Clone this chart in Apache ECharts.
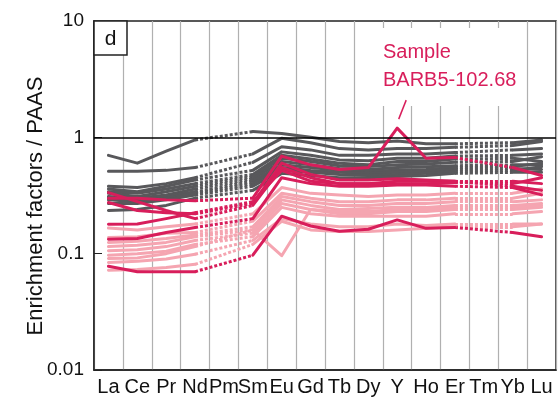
<!DOCTYPE html>
<html><head><meta charset="utf-8">
<script src="https://cdn.jsdelivr.net/npm/echarts@6/dist/echarts.min.js"></script>
<style>html,body{margin:0;padding:0;background:#fff}#c{width:559px;height:406px}</style>
</head><body><div id="c"></div>
<script>
var elements = ['La','Ce','Pr','Nd','Pm','Sm','Eu','Gd','Tb','Dy','Y','Ho','Er','Tm','Yb','Lu'];
var yTicks = [0.01, 0.1, 1, 10];
// values per element; Pm and Tm not measured (null)
var grayLines = [
 [0.70,0.60,0.76,0.95,null,1.12,1.08,1.00,0.92,0.90,0.93,0.88,0.88,null,0.90,0.95],
 [0.51,0.51,0.52,0.55,null,0.72,0.98,0.90,0.80,0.78,0.80,0.80,0.82,null,0.85,0.92],
 [0.38,0.37,0.40,0.45,null,0.61,0.83,0.78,0.70,0.70,0.72,0.72,0.74,null,0.78,0.80],
 [0.36,0.34,0.38,0.43,null,0.52,0.75,0.70,0.64,0.63,0.66,0.66,0.69,null,0.70,0.72],
 [0.34,0.33,0.36,0.40,null,0.48,0.70,0.65,0.60,0.58,0.62,0.62,0.65,null,0.66,0.62],
 [0.33,0.31,0.34,0.38,null,0.46,0.66,0.62,0.57,0.56,0.58,0.59,0.61,null,0.62,0.68],
 [0.31,0.30,0.32,0.36,null,0.44,0.62,0.58,0.54,0.53,0.55,0.56,0.57,null,0.58,0.58],
 [0.30,0.29,0.31,0.34,null,0.42,0.58,0.55,0.52,0.51,0.52,0.53,0.55,null,0.56,0.60],
 [0.29,0.28,0.30,0.33,null,0.40,0.55,0.52,0.50,0.49,0.50,0.51,0.53,null,0.54,0.53],
 [0.27,0.27,0.29,0.32,null,0.38,0.52,0.50,0.48,0.47,0.48,0.49,0.51,null,0.52,0.56],
 [0.235,0.24,0.26,0.30,null,0.35,0.49,0.47,0.45,0.45,0.46,0.47,0.49,null,0.50,0.50]
];
var pinkLines = [
 [0.166,0.16,0.17,0.18,null,0.22,0.37,0.33,0.32,0.31,0.32,0.32,0.33,null,0.33,0.36],
 [0.138,0.14,0.15,0.152,null,0.19,0.33,0.30,0.28,0.28,0.29,0.29,0.30,null,0.30,0.33],
 [0.125,0.128,0.135,0.145,null,0.17,0.31,0.28,0.26,0.26,0.27,0.27,0.28,null,0.28,0.29],
 [0.115,0.118,0.125,0.14,null,0.16,0.29,0.26,0.24,0.245,0.25,0.25,0.26,null,0.26,0.27],
 [0.106,0.108,0.115,0.13,null,0.15,0.27,0.24,0.22,0.22,0.23,0.23,0.24,null,0.24,0.25],
 [0.097,0.10,0.105,0.12,null,0.14,0.25,0.22,0.21,0.21,0.21,0.21,0.22,null,0.22,0.23],
 [0.091,0.092,0.10,0.115,null,0.16,0.096,0.24,0.23,0.23,0.24,0.24,0.25,null,0.25,0.26],
 [0.084,0.086,0.09,0.099,null,0.13,0.20,0.18,0.17,0.17,0.18,0.175,0.18,null,0.18,0.18],
 [0.072,0.073,0.076,0.081,null,0.12,0.19,0.16,0.155,0.155,0.16,0.165,0.17,null,0.17,0.18]
];
var magentaLines = [
 [0.335,0.28,0.235,0.20,null,0.26,0.55,0.45,0.40,0.40,0.42,0.42,0.42,null,0.38,0.35],
 [0.30,0.30,0.29,0.285,null,0.30,0.69,0.58,0.53,0.55,1.20,0.66,0.67,null,0.55,0.47],
 [0.275,0.235,0.225,0.22,null,0.27,0.60,0.48,0.43,0.43,0.44,0.43,0.42,null,0.42,0.40],
 [0.179,0.18,0.20,0.225,null,0.28,0.52,0.42,0.40,0.40,0.40,0.40,0.41,null,0.40,0.45],
 [0.133,0.135,0.152,0.168,null,0.20,0.45,0.40,0.38,0.38,0.39,0.39,0.38,null,0.37,0.32],
 [0.078,0.070,0.070,0.070,null,0.097,0.21,0.173,0.156,0.162,0.195,0.165,0.168,null,0.152,0.14]
];
var sampleName = ['Sample', 'BARB5-102.68'];

var GRAY = '#58585b', PINK = '#f5a5b1', MAG = '#d81e5b';
var reg = "'Liberation Sans',Arial,sans-serif";

function solid(arr, color){
  return arr.map(function(d){
    return {type:'line', data:d.map(function(v){return v==null?'-':v;}), connectNulls:false,
      showSymbol:false, symbol:'none', silent:true, animation:false,
      lineStyle:{color:color, width:3, cap:'round', join:'round'}};
  });
}
function dotted(arr, color){
  var segs = [];
  arr.forEach(function(d){
    for (var i=1;i<d.length-1;i++){
      if (d[i]==null && d[i-1]!=null && d[i+1]!=null){
        segs.push({coords:[[i-1,d[i-1]],[i+1,d[i+1]]]});
      }
    }
  });
  return {type:'lines', coordinateSystem:'cartesian2d', data:segs, silent:true, animation:false,
    polyline:false, symbol:['none','none'],
    lineStyle:{color:color, width:3, type:[3,2], opacity:1, curveness:0}};
}

var series = [];
series = series.concat(solid(pinkLines, PINK)); series.push(dotted(pinkLines, PINK));
series = series.concat(solid(grayLines, GRAY)); series.push(dotted(grayLines, GRAY));
series = series.concat(solid(magentaLines, MAG)); series.push(dotted(magentaLines, MAG));
// reference line at 1
series.push({type:'line', data:[], silent:true, markLine:{silent:true, symbol:['none','none'], label:{show:false},
  lineStyle:{color:'#000', width:1.5, type:'solid'}, data:[{yAxis:1}]}});

var chart = echarts.init(document.getElementById('c'), null, {renderer:'canvas'});
chart.setOption({
  animation:false,
  grid:{left:94, top:21, right:3, bottom:36, show:true, borderColor:'#222', borderWidth:1.5, backgroundColor:'transparent'},
  xAxis:{type:'category', data:elements, boundaryGap:true,
    axisLine:{lineStyle:{color:'#222', width:1.5}},
    axisTick:{inside:true, length:4, interval:0, lineStyle:{color:'#222'}},
    axisLabel:{interval:0, margin:7, fontSize:20, color:'#111', fontFamily:reg},
    splitLine:{show:true, interval:0, lineStyle:{color:'#b0b0b0', width:1.2}}},
  yAxis:{type:'log', logBase:10, min:yTicks[0], max:yTicks[yTicks.length-1],
    axisLine:{show:true, lineStyle:{color:'#222', width:1.5}},
    axisTick:{show:true, inside:true, length:8, lineStyle:{color:'#222'}},
    axisLabel:{margin:10, fontSize:19, color:'#111', fontFamily:reg,
      formatter:function(v){return String(+v.toPrecision(3));}},
    splitLine:{show:false}},
  series:series
});

var peak = chart.convertToPixel({gridIndex:0}, [10, 1.2]);
chart.setOption({graphic:[
  {type:'rect', shape:{x:94, y:21, width:33, height:34}, style:{fill:'#fff', stroke:'#222', lineWidth:1.5}, z:20},
  {type:'text', x:110.5, y:39, style:{text:'d', font:'21px '+reg, fill:'#111', textAlign:'center', textVerticalAlign:'middle'}, z:21},
  {type:'rect', shape:{x:370, y:28, width:142, height:78}, style:{fill:'#fff'}, z:1},
  {type:'text', x:383, y:52, style:{text:sampleName[0], font:'20px '+reg, fill:MAG, textAlign:'left', textVerticalAlign:'middle'}, z:21},
  {type:'text', x:383, y:80, style:{text:sampleName[1], font:'20px '+reg, fill:MAG, textAlign:'left', textVerticalAlign:'middle'}, z:21},
  {type:'line', shape:{x1:peak[0]+1.5, y1:peak[1]-9, x2:peak[0]+9, y2:peak[1]-28}, style:{stroke:MAG, lineWidth:1.5}, z:21},
  {type:'text', x:36, y:206, rotation:Math.PI/2, style:{text:'Enrichment factors / PAAS', font:'22px '+reg, fill:'#111', textAlign:'center', textVerticalAlign:'middle'}, z:21}
]});
</script></body></html>
